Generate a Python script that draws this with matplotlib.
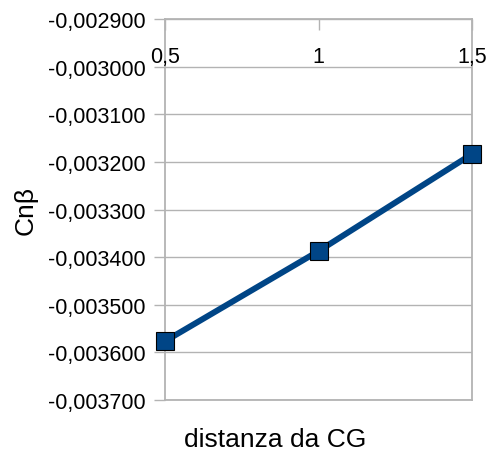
import matplotlib.pyplot as plt
from matplotlib.ticker import FuncFormatter

plt.rcParams['font.family'] = ['Liberation Sans', 'DejaVu Sans']

# dati
distanza = [0.5, 1.0, 1.5]
cn_beta = [-0.0035765, -0.0033874, -0.0031836]
x_ticks = [0.5, 1.0, 1.5]
y_ticks = [-0.0037, -0.0036, -0.0035, -0.0034, -0.0033, -0.0032, -0.0031, -0.0030, -0.0029]

grigio = '#b3b3b3'
blu = '#004586'

fig = plt.figure(figsize=(4.93, 4.52), dpi=100)
ax = fig.add_axes([165/493, 51/452, 307/493, 381/452])

ax.plot(distanza, cn_beta, color=blu, linewidth=4.3, marker='s', markersize=13.5,
        markerfacecolor=blu, markeredgecolor='#000000', markeredgewidth=0.8, zorder=3,
        clip_on=False)

ax.set_xlim(0.5, 1.5)
ax.set_ylim(-0.0037, -0.0029)
ax.set_xticks(x_ticks)
ax.set_yticks(y_ticks)

ax.xaxis.set_major_formatter(FuncFormatter(lambda v, p: ('%g' % v).replace('.', ',')))
ax.yaxis.set_major_formatter(FuncFormatter(lambda v, p: ('%.6f' % v).replace('.', ',')))

ax.grid(axis='y', color=grigio, linewidth=1.0)
for s in ax.spines.values():
    s.set_color(grigio)
    s.set_linewidth(1.3)

ax.tick_params(axis='y', direction='out', length=8, width=1.0, color=grigio,
               pad=6, labelsize=15.5, labelcolor='#000000')
ax.tick_params(axis='x', direction='in', length=8, width=1.0, color=grigio,
               bottom=False, top=True, labelbottom=False, labeltop=True,
               pad=-34.5, labelsize=15.5, labelcolor='#000000')
# etichette x sopra la griglia orizzontale
ax.xaxis.set_zorder(2.6)

fig.text(26/493, 1 - 211/452, 'Cnβ', rotation=90, ha='center', va='center', fontsize=19)
fig.text(275/493, 1 - 440/452, 'distanza da CG', ha='center', va='center', fontsize=19)

fig.savefig('out.png', dpi=100)
